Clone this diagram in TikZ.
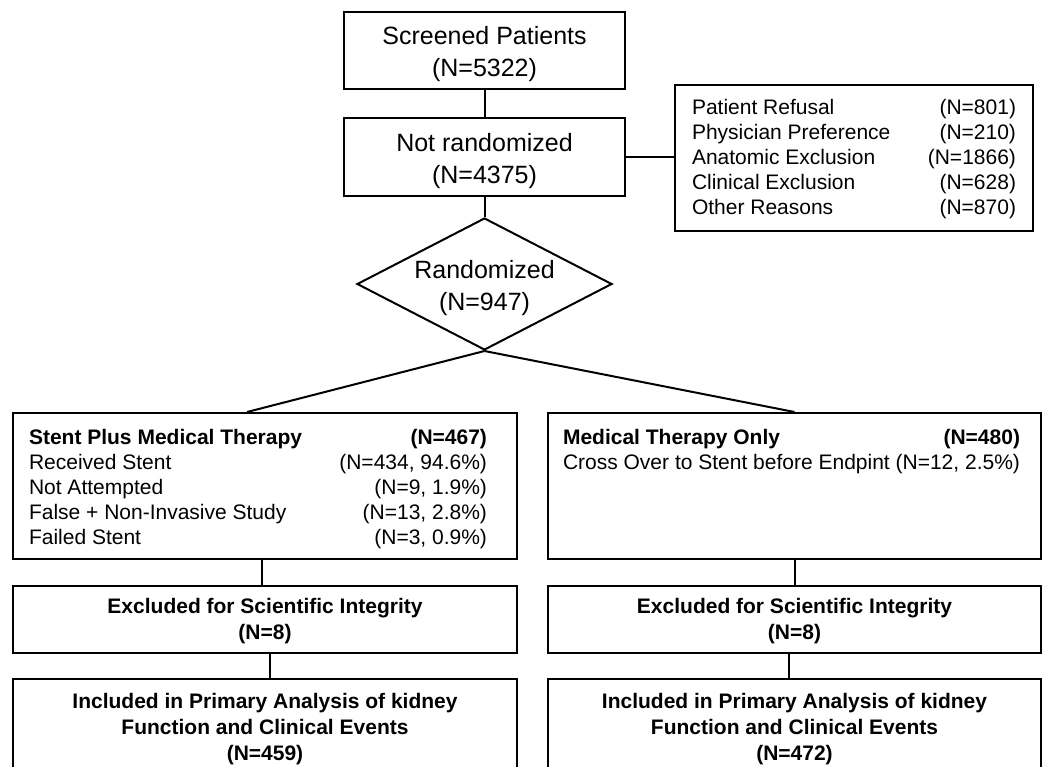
\documentclass[tikz,border=0pt]{standalone}
\usepackage{fontspec}
\setmainfont{Liberation Sans}
\usetikzlibrary{shapes.geometric}
\begin{document}
\begin{tikzpicture}[x=0.5pt,y=-0.5pt,
  box/.style={draw, line width=1pt, rectangle, inner sep=0pt, align=center},
  txt/.style={inner sep=0pt, align=center},
  big/.style={font=\fontsize{12.5pt}{16pt}\selectfont},
  bld/.style={font=\fontsize{10.5pt}{13pt}\selectfont\bfseries},
  lst/.style={inner sep=0pt, font=\fontsize{10.5pt}{12.5pt}\selectfont},
  conn/.style={line width=1pt}]
\useasboundingbox (0,0) rectangle (1048,766);
\clip (0,0) rectangle (1048,766);
\fill[white] (0,0) rectangle (1048,766);

% top column
\node[box,minimum width=140.5pt,minimum height=38.5pt] (scr) at (484.5,50.5) {};
\node[txt,big] (scrt) at (484.5,54) {Screened Patients\\(N=5322)};
\node[box,minimum width=140.5pt,minimum height=39pt] (nr) at (484.5,157) {};
\node[txt,big] (nrt) at (484.5,161) {Not randomized\\(N=4375)};
\node[draw,line width=1pt,diamond,minimum width=127.5pt,minimum height=66pt,inner sep=0pt] (rnd) at (484.5,284) {};
\node[txt,big] (rndt) at (484.5,288.5) {Randomized\\(N=947)};

% reasons
\node[box,minimum width=179pt,minimum height=73pt] (rs) at (854,157.5) {};
\node[lst] (rst) at (854,159.5) {\begin{tabular*}{162pt}{@{\extracolsep{\fill}}lr@{}}
Patient Refusal & (N=801)\\
Physician Preference & (N=210)\\
Anatomic Exclusion & (N=1866)\\
Clinical Exclusion & (N=628)\\
Other Reasons & (N=870)
\end{tabular*}};

% arms
\node[box,minimum width=252pt,minimum height=73pt] (sp) at (265,486) {};
\node[lst] (spt) at (258,489.5) {\begin{tabular*}{229pt}{@{\extracolsep{\fill}}lr@{}}
\textbf{Stent Plus Medical Therapy} & \textbf{(N=467)}\\
Received Stent & (N=434, 94.6\%)\\
Not Attempted & (N=9, 1.9\%)\\
False + Non-Invasive Study & (N=13, 2.8\%)\\
Failed Stent & (N=3, 0.9\%)
\end{tabular*}};

\node[box,minimum width=246.5pt,minimum height=73pt] (mt) at (794.5,486) {};
\node[lst] (mtt) at (791.5,452) {\begin{tabular*}{228.5pt}{@{\extracolsep{\fill}}lr@{}}
\textbf{Medical Therapy Only} & \textbf{(N=480)}\\
\multicolumn{2}{@{}l@{}}{Cross Over to Stent before Endpint (N=12, 2.5\%)}
\end{tabular*}};

% exclusions
\node[box,minimum width=252pt,minimum height=33.5pt] (ex1) at (265,619.5) {};
\node[txt,bld] (ex1t) at (265,621.5) {Excluded for Scientific Integrity\\(N=8)};
\node[box,minimum width=246.5pt,minimum height=33.5pt] (ex2) at (794.5,619.5) {};
\node[txt,bld] (ex2t) at (794.5,621.5) {Excluded for Scientific Integrity\\(N=8)};

% included
\node[box,minimum width=252pt,minimum height=47pt] (in1) at (265,726) {};
\node[txt,bld] (in1t) at (265,729) {Included in Primary Analysis of kidney\\Function and Clinical Events\\(N=459)};
\node[box,minimum width=246.5pt,minimum height=47pt] (in2) at (794.5,726) {};
\node[txt,bld] (in2t) at (794.5,729) {Included in Primary Analysis of kidney\\Function and Clinical Events\\(N=472)};

% connectors
\draw[conn] (scr) -- (nr);
\draw[conn] (nr) -- (rnd);
\draw[conn] (nr.east) -- (nr.east -| rs.west);
\draw[conn] (rnd.south) -- ([xshift=-9pt]sp.north);
\draw[conn] (rnd.south) -- (mt.north);
\draw[conn] ([xshift=-1.5pt]sp.south) -- ([xshift=-1.5pt]ex1.north);
\draw[conn] ([xshift=2.5pt]ex1.south) -- ([xshift=2.5pt]in1.north);
\draw[conn] (mt.south) -- (ex2.north);
\draw[conn] ([xshift=-3pt]ex2.south) -- ([xshift=-3pt]in2.north);
\end{tikzpicture}
\end{document}
